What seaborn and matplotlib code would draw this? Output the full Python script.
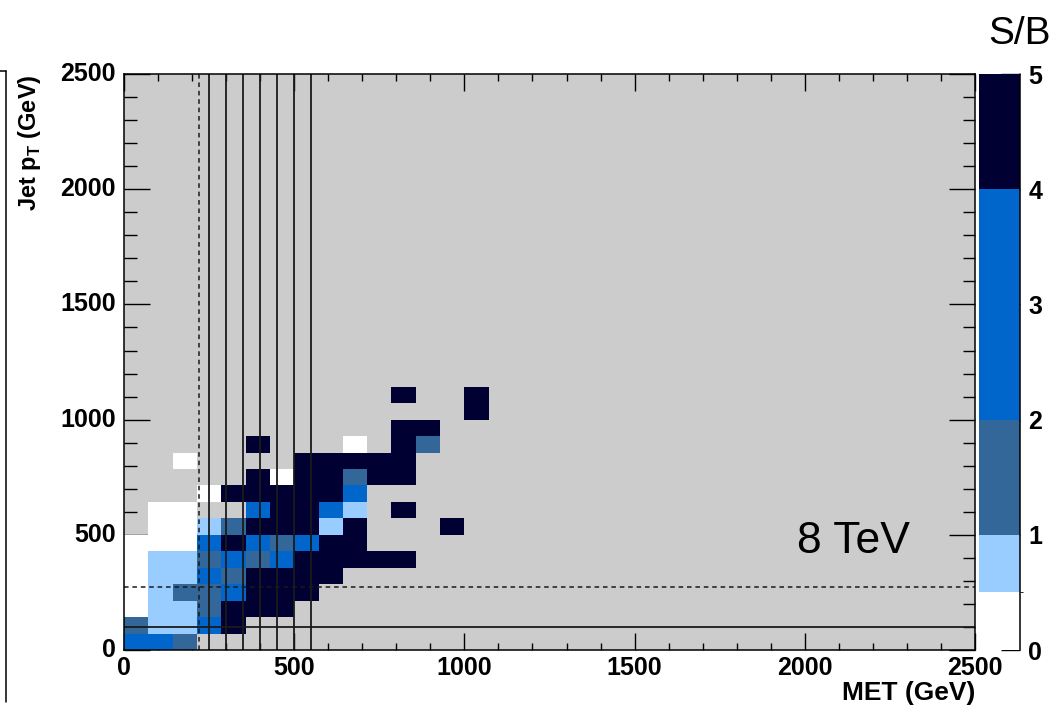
import numpy as np
import pandas as pd
import matplotlib
matplotlib.use("Agg")
import matplotlib.pyplot as plt
from matplotlib.colors import ListedColormap, BoundaryNorm
from matplotlib.lines import Line2D
import seaborn as sns

sns.set_style("ticks")
plt.rcParams["font.family"] = ["Liberation Sans", "DejaVu Sans"]
plt.rcParams.update({"text.color": "k", "axes.labelcolor": "k",
                     "xtick.color": "k", "ytick.color": "k"})

n_bins = 35
axis_max = 2500.0
bin_width = axis_max / n_bins

# S/B per cell, one list per jet pT bin (lowest first), entries along MET bins; nan = empty bin
_ = np.nan
sb_pt00 = [3.0, 3.0, 1.5]
sb_pt01 = [1.5, 0.75, 0.75, 3.0, 4.5]
sb_pt02 = [0.3, 0.75, 0.75, 1.5, 4.5, 4.5, 4.5]
sb_pt03 = [0.3, 0.75, 1.5, 1.5, 3.0, 4.5, 4.5, 4.5]
sb_pt04 = [0.3, 0.75, 0.75, 3.0, 1.5, 4.5, 4.5, 4.5, 4.5]
sb_pt05 = [0.3, 0.75, 0.75, 1.5, 3.0, 1.5, 3.0, 4.5, 4.5, 4.5, 4.5, 4.5]
sb_pt06 = [0.3, 0.3, 0.3, 3.0, 4.5, 3.0, 1.5, 3.0, 4.5, 4.5]
sb_pt07 = [_, 0.3, 0.3, 0.75, 1.5, 4.5, 4.5, 4.5, 0.75, 4.5, _, _, _, 4.5]
sb_pt08 = [_, 0.3, 0.3, _, _, 3.0, 4.5, 4.5, 3.0, 0.75, _, 4.5]
sb_pt09 = [_, _, _, 0.3, 4.5, 4.5, 4.5, 4.5, 4.5, 3.0]
sb_pt10 = [_, _, _, _, _, 4.5, 0.3, 4.5, 4.5, 1.5, 4.5, 4.5]
sb_pt11 = [_, _, 0.3, _, _, _, _, 4.5, 4.5, 4.5, 4.5, 4.5]
sb_pt12 = [_, _, _, _, _, 4.5, _, _, _, 0.3, _, 4.5, 1.5]
sb_pt13 = [_, _, _, _, _, _, _, _, _, _, _, 4.5, 4.5]
sb_pt14 = [_, _, _, _, _, _, _, _, _, _, _, _, _, _, 4.5]
sb_pt15 = [_, _, _, _, _, _, _, _, _, _, _, 4.5, _, _, 4.5]

sb_levels = [0, 0.5, 1, 2, 4, 5]
sb_colors = ["#ffffff", "#99ccff", "#336699", "#0066cc", "#000033"]

# selection cuts (GeV)
met_cuts = [250, 300, 350, 400, 450, 500, 550]
met_loose = 220
pt_cut = 100
pt_loose = 275


def to_bin(v):
    return np.asarray(v, dtype=float) / bin_width


def main():
    rows = [sb_pt00, sb_pt01, sb_pt02, sb_pt03, sb_pt04, sb_pt05, sb_pt06, sb_pt07,
            sb_pt08, sb_pt09, sb_pt10, sb_pt11, sb_pt12, sb_pt13, sb_pt14, sb_pt15]
    grid = np.full((n_bins, n_bins), np.nan)
    for j, row in enumerate(rows):
        grid[j, :len(row)] = row
    df = pd.DataFrame(grid)

    fig = plt.figure(figsize=(10.6, 7.14), dpi=100)
    ax = fig.add_axes([0.117, 0.0896, 0.8028, 0.8067])
    cax = fig.add_axes([0.9236, 0.0896, 0.0387, 0.8067])

    cmap = ListedColormap(sb_colors)
    norm = BoundaryNorm(sb_levels, cmap.N)
    sns.heatmap(df, ax=ax, cbar_ax=cax, cmap=cmap, norm=norm, linewidths=0,
                cbar_kws={"spacing": "proportional", "ticks": list(range(6))})

    ax.set_facecolor("#cccccc")
    ax.set_xlim(0, n_bins)
    ax.set_ylim(0, n_bins)
    for s in ax.spines.values():
        s.set_visible(True)
        s.set_linewidth(1.1)
        s.set_color("k")

    major = np.arange(0, 2501, 500)
    minor = np.arange(0, 2501, 100)
    ax.set_xticks(to_bin(major))
    ax.set_xticklabels([str(v) for v in major], rotation=0, fontweight="bold", fontsize=18)
    ax.set_xticks(to_bin(minor), minor=True)
    ax.set_yticks(to_bin(major))
    ax.set_yticklabels([str(v) for v in major], rotation=0, fontweight="bold", fontsize=18)
    ax.set_yticks(to_bin(minor), minor=True)
    ax.tick_params(axis="x", which="major", direction="in", length=12, width=1, top=True, bottom=True, pad=4)
    ax.tick_params(axis="x", which="minor", direction="in", length=5, width=1, top=True, bottom=True)
    ax.tick_params(axis="y", which="major", direction="in", length=19, width=1, left=True, right=True, pad=6)
    ax.tick_params(axis="y", which="minor", direction="in", length=9, width=1, left=True, right=True)

    for v in met_cuts:
        ax.axvline(to_bin(v), color="#1a1a1a", lw=1.3)
    ax.axvline(to_bin(met_loose), color="#1a1a1a", lw=1.1, ls=(0, (3, 2.5)))
    ax.axhline(to_bin(pt_cut), color="#1a1a1a", lw=1.3)
    ax.axhline(to_bin(pt_loose), color="#1a1a1a", lw=1.1, ls=(0, (3, 2.5)))

    ax.set_xlabel("MET (GeV)", loc="right", fontweight="bold", fontsize=19)
    ax.xaxis.set_label_coords(1.0, -0.053)
    ax.set_ylabel("Jet p$_\\mathregular{T}$ (GeV)", loc="top", fontweight="bold", fontsize=17)
    ax.yaxis.set_label_coords(-0.095, 1.0)

    ax.text(0.791, 0.168, "8 TeV", transform=ax.transAxes, fontsize=32, ha="left", va="baseline")

    cb = ax.collections[0].colorbar
    cb.outline.set_visible(False)
    cax.tick_params(direction="in", length=14, width=1, right=True, labelsize=18, pad=6)
    for lbl in cax.get_yticklabels():
        lbl.set_fontweight("bold")
    cax.add_line(Line2D([1, 1], [0, 1], transform=cax.transAxes, color="k", lw=1.1, clip_on=False))

    fig.text(0.9915, 0.938, "S/B", fontsize=28, ha="right", va="baseline")

    # frame edge of the neighbouring pad
    fig.add_artist(Line2D([0.006, 0.006], [0.9, 0.017], color="k", lw=1.1))
    fig.add_artist(Line2D([0.0, 0.006], [0.9, 0.9], color="k", lw=1.1))

    fig.savefig("out.png", dpi=100)


if __name__ == "__main__":
    main()
